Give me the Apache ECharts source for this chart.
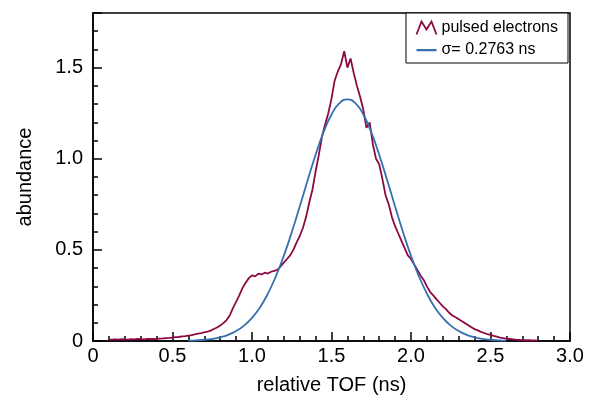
<!DOCTYPE html>
<html>
<head>
<meta charset="utf-8">
<script src="https://cdn.jsdelivr.net/npm/echarts@6/dist/echarts.min.js"></script>
<style>html,body{margin:0;padding:0;background:#fff;}#c{width:589px;height:401px;}</style>
</head>
<body>
<div id="c"></div>
<script>
// Measured histogram (bins every 0.02 ns starting at 0.10 ns)
const binStart = 0.10;
const binStep = 0.02;
const pulsedValues = [
  0.008,
  0.008,0.009,0.008,0.010,0.009,0.008,0.010,0.009,0.011,0.010,0.009,0.011,0.012,0.011,0.012,
  0.013,0.014,0.016,0.017,0.019,0.021,0.022,0.025,0.027,0.030,
  0.032,0.036,0.040,0.043,0.048,0.052,0.057,0.066,0.074,0.085,
  0.098,0.115,0.14,0.18,0.215,0.25,0.29,0.32,0.345,0.36,
  0.355,0.37,0.365,0.375,0.37,0.38,0.385,0.39,0.41,0.43,
  0.45,0.47,0.50,0.54,0.575,0.62,0.68,0.76,0.83,0.93,
  1.02,1.12,1.19,1.25,1.33,1.43,1.48,1.52,1.59,1.50,
  1.55,1.47,1.40,1.34,1.27,1.17,1.20,1.08,1.00,0.97,
  0.89,0.80,0.75,0.68,0.63,0.59,0.55,0.51,0.47,0.45,
  0.42,0.39,0.36,0.335,0.30,0.27,0.25,0.23,0.21,0.19,
  0.175,0.155,0.14,0.13,0.12,0.108,0.098,0.087,0.075,0.065,
  0.058,0.050,0.044,0.038,0.033,0.028,0.024,0.019,0.016,0.013,
  0.011,0.009,0.007,0.006,0.005,0.004,0.004,0.003,0.003,0.002
];
// Gaussian fit curve, read at every 0.05 ns from 0.60 ns
const fitX = [0.60,0.65,0.70,0.75,0.80,0.85,0.90,0.95,1.00,1.05,1.10,1.15,1.20,1.25,1.30,1.35,1.40,1.45,1.50,1.55,1.60,
              1.65,1.70,1.75,1.80,1.85,1.90,1.95,2.00,2.05,2.10,2.15,2.20,2.25,2.30,2.35,2.40,2.45,2.50,2.55,2.60];
const fitValues = [0.002,0.0037,0.0068,0.012,0.0205,0.034,0.0546,0.0846,0.127,0.184,0.260,0.355,0.467,0.597,0.738,0.882,1.022,1.146,1.243,1.305,1.326,
                   1.305,1.243,1.146,1.022,0.883,0.738,0.597,0.467,0.355,0.260,0.184,0.127,0.0846,0.0546,0.034,0.0205,0.012,0.0068,0.0037,0.002];
const seriesNames = ['pulsed electrons', 'σ= 0.2763 ns'];
const xTicks = [0, 0.5, 1.0, 1.5, 2.0, 2.5, 3.0];
const yTicks = [0, 0.5, 1.0, 1.5];

const redColor = '#8c0a43';
const blueColor = '#3770b0';
const font = 'Liberation Sans, Arial, Helvetica, sans-serif';

const pulsedData = pulsedValues.map((v, i) => [+(binStart + i * binStep).toFixed(2), v]);
const fitData = fitX.map((x, i) => [x, fitValues[i]]);
const fmt = v => (v === 0 ? '0' : v.toFixed(1));

const chart = echarts.init(document.getElementById('c'), null, {renderer: 'canvas'});
chart.setOption({
  animation: false,
  backgroundColor: '#fff',
  grid: {left: 93, right: 19, top: 13, bottom: 60, outerBoundsMode: 'none', containLabel: false,
         show: true, borderColor: '#000', borderWidth: 1.5, backgroundColor: 'transparent'},
  legend: {
    orient: 'vertical', right: 21, top: 13,
    backgroundColor: '#fff', borderColor: '#000', borderWidth: 1,
    padding: [6, 10, 5, 8], itemGap: 5, itemWidth: 20, itemHeight: 14,
    textStyle: {fontFamily: font, fontSize: 16, color: '#000'},
    data: [
      {name: seriesNames[0], icon: 'path://M0,14 L5,1 L10,9 L15,1 L20,14', itemStyle: {color: 'none', borderColor: redColor, borderWidth: 1.8}},
      {name: seriesNames[1], icon: 'path://M0,0 L0.1,0 L0.1,0.1 Z M0,6 L20,6 L20,8.2 L0,8.2 Z M19.9,14 L20,14 L20,13.9 Z', itemStyle: {color: blueColor, borderWidth: 0}}
    ]
  },
  xAxis: {
    type: 'value', min: 0, max: 3, interval: 0.5,
    name: 'relative TOF (ns)', nameLocation: 'middle', nameGap: 34,
    nameTextStyle: {fontFamily: font, fontSize: 20, color: '#000'},
    axisLine: {show: true, lineStyle: {color: '#000', width: 1.5}},
    axisTick: {show: true, inside: true, length: 9, lineStyle: {color: '#000', width: 1.5}},
    minorTick: {show: true, splitNumber: 5, length: 5, lineStyle: {color: '#000', width: 1.5}},
    splitLine: {show: false},
    axisLabel: {fontFamily: font, fontSize: 20, color: '#000', margin: 5, formatter: v => xTicks.indexOf(v) >= 0 ? fmt(v) : ''}
  },
  yAxis: {
    type: 'value', min: 0, max: 1.8, interval: 0.5,
    name: 'abundance', nameLocation: 'middle', nameGap: 58,
    nameTextStyle: {fontFamily: font, fontSize: 20, color: '#000'},
    axisLine: {show: true, lineStyle: {color: '#000', width: 1.5}},
    axisTick: {show: true, inside: true, length: 9, lineStyle: {color: '#000', width: 1.5}},
    minorTick: {show: true, splitNumber: 5, length: 5, lineStyle: {color: '#000', width: 1.5}},
    splitLine: {show: false},
    axisLabel: {fontFamily: font, fontSize: 20, color: '#000', margin: 10, showMaxLabel: false, formatter: v => yTicks.indexOf(v) >= 0 ? fmt(v) : ''}
  },
  series: [
    {name: seriesNames[0], type: 'line', data: pulsedData, symbol: 'none', lineStyle: {color: redColor, width: 1.8}, itemStyle: {color: redColor}, z: 2},
    {name: seriesNames[1], type: 'line', data: fitData, symbol: 'none', smooth: true, lineStyle: {color: blueColor, width: 1.8}, itemStyle: {color: blueColor}, z: 3}
  ]
});
</script>
</body>
</html>
